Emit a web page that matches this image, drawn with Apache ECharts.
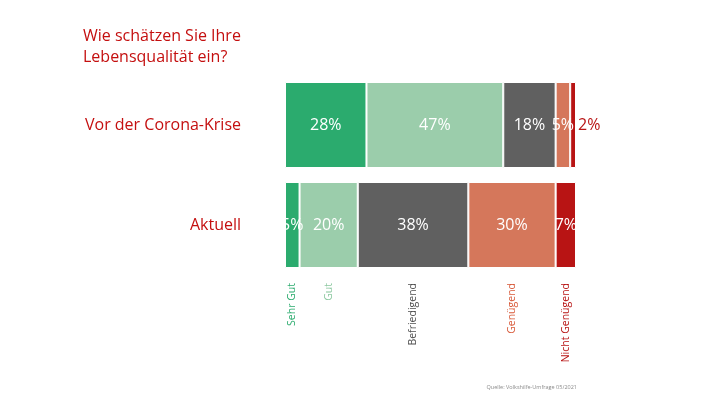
<!DOCTYPE html>
<html>
<head>
<meta charset="utf-8">
<script src="https://cdn.jsdelivr.net/npm/echarts@6/dist/echarts.min.js"></script>
<style>
html,body{margin:0;padding:0;background:#fff;}
#chart{width:727px;height:409px;}
</style>
</head>
<body>
<div id="chart"></div>
<script>
const categories = ['Vor der Corona-Krise', 'Aktuell'];
const seriesNames = ['Sehr Gut', 'Gut', 'Befriedigend', 'Genügend', 'Nicht Genügend'];
const sehrGut = [28, 5];
const gut = [47, 20];
const befriedigend = [18, 38];
const genuegend = [5, 30];
const nichtGenuegend = [2, 7];
const colors = ['#2bab6e', '#9bcdab', '#606060', '#d5775b', '#b81414'];
const labelColors = ['#2bab6e', '#8cc8a0', '#505050', '#d85a3a', '#b81414'];
const titleText = 'Wie schätzen Sie Ihre\nLebensqualität ein?';
const sourceText = 'Quelle: Volkshilfe-Umfrage 05/2021';

const allSeries = [sehrGut, gut, befriedigend, genuegend, nichtGenuegend];
// legend labels sit under the middle of each segment of the "Aktuell" bar
const labelPositions = [];
let cum = 0;
allSeries.forEach(s => { labelPositions.push(cum + s[1] / 2); cum += s[1]; });

const FONT = '"Open Sans", "Noto Sans", sans-serif';
const RED = '#c40f0f';

const rich = {};
labelColors.forEach((c, i) => { rich['c' + i] = { color: c, fontSize: 10.5, fontFamily: FONT }; });

const series = allSeries.map((vals, i) => ({
  name: seriesNames[i],
  type: 'bar',
  stack: 'total',
  barWidth: 86,
  itemStyle: { color: colors[i], borderColor: '#fff', borderWidth: 1 },
  label: {
    show: true,
    position: 'inside',
    color: '#fff',
    fontSize: 16,
    fontFamily: FONT,
    formatter: '{c}%'
  },
  data: vals.map((v, j) => {
    if (i === 4 && v < 4) {
      return { value: v, label: { position: 'right', distance: 2, color: colors[4] } };
    }
    return v;
  })
}));

const chart = echarts.init(document.getElementById('chart'));
chart.setOption({
  animation: false,
  backgroundColor: '#fff',
  title: [
    {
      text: titleText,
      left: 78, top: 21,
      textStyle: { color: RED, fontSize: 16, fontWeight: 'normal', fontFamily: FONT, lineHeight: 21 }
    },
    {
      text: sourceText,
      right: 145, top: 379,
      textStyle: { color: '#8a8a8a', fontSize: 5.5, fontWeight: 'normal', fontFamily: FONT }
    }
  ],
  grid: { left: 285, right: 151, top: 75, bottom: 134, containLabel: false },
  xAxis: {
    type: 'value',
    min: 0, max: 100,
    splitLine: { show: false },
    axisLine: { show: false },
    axisTick: { show: false },
    axisLabel: {
      show: true,
      customValues: labelPositions,
      rotate: 90,
      margin: 8,
      formatter: function (val) {
        let idx = 0, best = Infinity;
        labelPositions.forEach((p, k) => { const d = Math.abs(p - val); if (d < best) { best = d; idx = k; } });
        return '{c' + idx + '|' + seriesNames[idx] + '}';
      },
      rich: rich
    }
  },
  yAxis: {
    type: 'category',
    inverse: true,
    data: categories,
    axisLine: { show: false },
    axisTick: { show: false },
    axisLabel: { color: RED, fontSize: 16, fontFamily: FONT, margin: 44 }
  },
  series: series
});
</script>
</body>
</html>
